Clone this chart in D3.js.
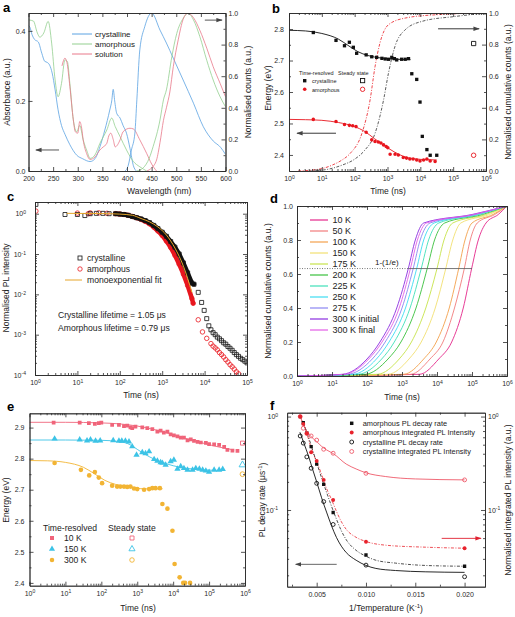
<!DOCTYPE html>
<html>
<head>
<meta charset="utf-8">
<script src="https://cdn.jsdelivr.net/npm/d3@7/dist/d3.min.js"></script>
<style>
  body { margin: 0; background: #fff; }
  svg { display: block; font-family: "Liberation Sans", Arial, sans-serif; }
</style>
</head>
<body>
<div id="figure"></div>
<script>
// ---------- panel a : spectra, [wavelength (nm), value]
const absCrystalline = [[200,0.415],[203,0.41],[207,0.39],[212,0.376],[220,0.368],[227,0.336],[233,0.313],[238,0.31],[243,0.302],[248,0.28],[254,0.232],[260,0.175],[267,0.13],[274,0.105],[284,0.075],[298,0.045],[310,0.035],[325,0.027],[335,0.035],[345,0.069],[355,0.117],[365,0.174],[369,0.2],[372,0.233],[375,0.2],[379,0.165],[386,0.151],[392,0.13],[399,0.108],[406,0.065],[413,0.015],[419,0]];
const absAmorphous = [[200,0.432],[202,0.431],[210,0.428],[218,0.394],[223,0.382],[231,0.394],[240,0.427],[247,0.365],[254,0.26],[260,0.212],[267,0.25],[274,0.317],[279,0.312],[284,0.25],[291,0.146],[298,0.112],[304,0.13],[311,0.089],[319,0.056],[325,0.036],[335,0.046],[345,0.079],[359,0.117],[369,0.151],[376,0.127],[386,0.098],[399,0.06],[413,0.027],[426,0.012],[440,0]];
const absSolution = [[268,0.3],[271,0.315],[274,0.322],[278,0.31],[284,0.241],[291,0.146],[295,0.112],[300,0.108],[304,0.141],[308,0.122],[311,0.089],[318,0.05],[325,0.033],[335,0.04],[345,0.06],[352,0.069],[359,0.079],[363,0.1],[367,0.108],[372,0.09],[376,0.069],[386,0.089],[392,0.112],[406,0.122],[413,0.12],[426,0.089],[440,0.05],[450,0.02],[460,0]];
const plCrystalline = [[396,0],[402,0.03],[409,0.133],[416,0.24],[420,0.45],[426,0.766],[436,0.913],[450,1.0],[467,0.892],[480,0.81],[494,0.714],[514,0.576],[535,0.429],[555,0.28],[575,0.19],[590,0.15],[600,0.105]];
const plAmorphous = [[420,0],[433,0.02],[445,0.08],[453,0.154],[467,0.323],[474,0.45],[480,0.513],[491,0.723],[501,0.87],[514,0.966],[524,0.998],[535,0.956],[548,0.85],[562,0.7],[575,0.576],[589,0.47],[600,0.407]];
const plSolution = [[440,0],[450,0.02],[460,0.07],[467,0.18],[474,0.32],[480,0.4],[487,0.5],[494,0.66],[504,0.83],[514,0.96],[524,1.0],[535,0.97],[548,0.89],[562,0.777],[575,0.66],[589,0.555],[600,0.47]];
const aSeriesNames = ["crystalline", "amorphous", "solution"];

// ---------- panel b : [time (ns), energy (eV)] and [time, cumulative counts]
const bCrystalline = [[5.5,2.789],[27,2.764],[49,2.747],[69,2.758],[91,2.742],[115,2.723],[224,2.718],[331,2.712],[468,2.71],[676,2.707],[851,2.705],[1072,2.704],[1349,2.71],[1622,2.706],[1905,2.702],[2692,2.704],[3467,2.704],[4365,2.706],[5495,2.658],[7762,2.64],[9772,2.568],[11482,2.459],[15849,2.417],[19953,2.399],[31623,2.399]];
const bAmorphous = [[5.5,2.513],[27,2.506],[49,2.497],[69,2.494],[87,2.493],[110,2.49],[224,2.472],[331,2.448],[417,2.443],[525,2.441],[631,2.438],[759,2.432],[912,2.427],[1023,2.423],[1202,2.402],[1698,2.402],[2138,2.4],[3020,2.392],[3802,2.39],[4786,2.387],[6026,2.387],[7762,2.384],[9772,2.381],[12589,2.384],[15849,2.387],[19953,2.381],[28184,2.379]];
const bCrystallineSteady = [[420000,2.754]];
const bAmorphousSteady = [[420000,2.399]];
const bCrystallineFit = [[1,2.796],[3.2,2.794],[10,2.786],[32,2.768],[63,2.748],[126,2.728],[251,2.716],[631,2.708],[1585,2.704],[5012,2.703]];
const bAmorphousFit = [[1,2.513],[3.2,2.512],[10,2.51],[32,2.503],[100,2.49],[200,2.475],[398,2.452],[794,2.43],[1585,2.41],[3162,2.395],[6310,2.388],[15849,2.385],[31623,2.384]];
const bCumAmorphous = [[1.9,0],[10,0.015],[20,0.036],[40,0.068],[72,0.11],[166,0.238],[295,0.45],[417,0.66],[589,0.81],[1072,0.926],[3467,0.968],[36308,0.99],[1000000,1.0]];
const bCumCrystalline = [[4,0],[10,0.005],[40,0.036],[100,0.075],[200,0.13],[417,0.238],[759,0.45],[1072,0.62],[1698,0.79],[3467,0.894],[11220,0.947],[114815,0.978],[1000000,1.0]];

// ---------- panel c : [time (ns), normalised PL intensity]
const cCrystalline = [[1.05,1.7],[5.1,0.955],[10,0.955],[15,0.9],[20,1.0],[28,1.02],[40,1.02],[56,1.0],[79,1.0],[100,0.977],[126,0.955],[158,0.912],[200,0.851],[251,0.794],[316,0.741],[398,0.676],[501,0.603],[631,0.513],[794,0.427],[1000,0.347],[1259,0.275],[1585,0.204],[1995,0.148],[2512,0.1],[3162,0.06],[3981,0.034],[5012,0.019],[5623,0.0178],[7079,0.0112],[8511,0.0063],[9772,0.004],[11220,0.0025],[12589,0.00166],[14125,0.00132],[15849,0.00112],[17783,0.001],[19953,0.00087],[22387,0.00079],[25119,0.00071],[28184,0.00063],[31623,0.00058],[35481,0.00051],[39811,0.00046],[44668,0.00041],[50119,0.00036],[56234,0.00032],[63096,0.00029],[70795,0.00026],[79433,0.00024],[89125,0.00022],[100000,0.0002]];
const cAmorphous = [[1.05,1.16],[10,1.035],[18,1.0],[20,1.047],[32,1.047],[50,1.023],[79,1.0],[100,0.977],[126,0.955],[158,0.912],[200,0.851],[251,0.794],[316,0.724],[398,0.646],[501,0.562],[631,0.468],[794,0.372],[1000,0.288],[1259,0.209],[1585,0.145],[1995,0.093],[2512,0.056],[3162,0.0316],[3981,0.0166],[5012,0.0079],[5370,0.006],[7079,0.00234],[8913,0.00117],[11220,0.00081],[14125,0.0006],[15849,0.00052],[17783,0.00047],[19953,0.00042],[22387,0.00036],[25119,0.00032],[28184,0.00028],[31623,0.00024],[35481,0.00021],[39811,0.00018],[44668,0.00016],[50119,0.00014],[56234,0.00012],[63096,0.000107]];
const cMonoFit = [[5.6,1.02],[32,1.01],[100,0.977],[200,0.912],[316,0.76],[501,0.63],[794,0.468],[1259,0.295],[1995,0.141],[3162,0.05],[3981,0.025],[5012,0.0112]];
const cLifetimes = ["Crystalline lifetime = 1.05 \u03bcs", "Amorphous lifetime = 0.79 \u03bcs"];

// ---------- panel d : time (log10 ns) at which each curve reaches each level
const dLevels = [0, 0.01, 0.1, 0.2, 0.4, 0.632, 0.8, 0.9, 0.95, 1.0];
const dNames = ["10 K","50 K","100 K","150 K","175 K","200 K","225 K","250 K","275 K","300 K initial","300 K final"];
const dColors = ["#e4278a","#f27c7c","#f3a04c","#f2e070","#c6e34a","#39c03c","#3fe0b8","#3cdcf2","#8a86f2","#8a2ee0","#e35de6"];
const dLogTimes = [
  [0, 3.5, 4.05, 4.42, 4.75, 4.99, 5.18, 5.4, 5.75, 6],
  [0, 3.25, 3.8, 4.17, 4.5, 4.78, 4.95, 5.15, 5.65, 6],
  [0, 3.05, 3.62, 3.98, 4.35, 4.62, 4.8, 5.0, 5.6, 6],
  [0, 2.6, 3.2, 3.55, 3.95, 4.25, 4.45, 4.68, 5.5, 6],
  [0, 2.3, 2.92, 3.27, 3.68, 4.0, 4.2, 4.45, 5.4, 6],
  [0, 1.95, 2.6, 2.97, 3.4, 3.72, 3.93, 4.22, 5.3, 6],
  [0, 1.75, 2.42, 2.78, 3.23, 3.55, 3.76, 4.05, 5.2, 6],
  [0, 1.6, 2.27, 2.63, 3.1, 3.42, 3.62, 3.92, 5.15, 6],
  [0, 1.45, 2.15, 2.52, 3.0, 3.32, 3.52, 3.8, 5.1, 6],
  [0, 1.3, 2.0, 2.37, 2.85, 3.18, 3.38, 3.62, 5.0, 6],
  [0, 1.35, 2.05, 2.43, 2.92, 3.24, 3.44, 3.7, 5.05, 6]
];
const dThreshold = 0.632;
const dThresholdTimes = [1, 1514, 100000];

// ---------- panel e : [time (ns), energy (eV)]
const e10K = [[4.7,2.916],[25,2.916],[45,2.914],[66,2.912],[85,2.914],[100,2.916],[200,2.909],[309,2.909],[427,2.905],[525,2.906],[646,2.901],[724,2.898],[891,2.903],[1380,2.901],[1905,2.898],[2630,2.895],[3631,2.887],[4467,2.89],[5495,2.884],[6918,2.887],[8511,2.878],[10471,2.875],[13183,2.872],[16218,2.868],[19953,2.868],[25119,2.859],[30903,2.862],[38019,2.857],[47863,2.854],[58884,2.852],[81283,2.851],[100000,2.847],[138038,2.846],[190546,2.844],[263027,2.838],[323594,2.828],[446684,2.826],[616595,2.825]];
const e150K = [[5,2.864],[25,2.861],[40,2.858],[50,2.861],[69,2.857],[93,2.858],[214,2.859],[309,2.857],[372,2.857],[468,2.857],[589,2.855],[724,2.839],[955,2.812],[1380,2.82],[1698,2.817],[2138,2.823],[2951,2.798],[3631,2.793],[4467,2.788],[5012,2.786],[6166,2.78],[8511,2.791],[10471,2.796],[13183,2.767],[16218,2.775],[19953,2.769],[25119,2.764],[34674,2.764],[42658,2.769],[53703,2.767],[66069,2.764],[81283,2.761],[100000,2.757],[138038,2.764],[190546,2.764],[239883,2.766]];
const e300K = [[5,2.786],[27,2.764],[46,2.746],[66,2.757],[85,2.739],[105,2.721],[200,2.713],[275,2.71],[339,2.71],[427,2.71],[525,2.709],[646,2.71],[813,2.704],[1000,2.702],[1549,2.7],[2138,2.702],[2630,2.705],[3236,2.705],[4266,2.705],[5012,2.654],[6918,2.639],[9550,2.568],[10965,2.461],[15136,2.418],[19055,2.4],[21380,2.4],[29512,2.4]];
const e10KSteady = [[851138,2.85]];
const e150KSteady = [[851138,2.78]];
const e300KSteady = [[851138,2.75]];
const e10KFit = [[1,2.917],[10,2.917],[100,2.915],[316,2.912],[1000,2.905],[3162,2.893],[10000,2.877],[31623,2.86],[100000,2.845],[316228,2.832],[501187,2.828]];
const e150KFit = [[1,2.86],[10,2.86],[100,2.859],[316,2.855],[631,2.845],[1000,2.83],[1585,2.815],[3162,2.797],[6310,2.784],[15849,2.772],[39811,2.766],[100000,2.763],[251189,2.762]];
const e300KFit = [[1,2.794],[3.2,2.793],[10,2.788],[32,2.772],[63,2.752],[126,2.73],[251,2.717],[631,2.708],[1585,2.703],[5012,2.703]];
const eNames = ["10 K", "150 K", "300 K"];

// ---------- panel f : [1/T (1/K), value]
const fAmorphousRate = [[0.00333,1.0],[0.00364,0.86],[0.004,0.67],[0.00444,0.476],[0.005,0.31],[0.00571,0.188],[0.00667,0.094],[0.01,0.033],[0.02,0.025]];
const fCrystallineRate = [[0.00333,0.62],[0.00364,0.52],[0.004,0.37],[0.00444,0.28],[0.005,0.193],[0.00571,0.123],[0.00667,0.07],[0.01,0.0257],[0.02,0.0193]];
const fAmorphousIntensity = [[0.00333,1.0],[0.00364,0.835],[0.004,0.66],[0.00444,0.415],[0.005,0.335],[0.00571,0.21],[0.00667,0.128],[0.01,0.0457],[0.02,0.039]];
const fCrystallineIntensity = [[0.00333,1.0],[0.00364,0.75],[0.004,0.66],[0.00444,0.62],[0.005,0.56],[0.00571,0.447],[0.00667,0.405],[0.01,0.247],[0.02,0.21]];
const fCrystallineRateFit = [[0.0033,0.68],[0.0037,0.52],[0.0042,0.37],[0.0046,0.27],[0.005,0.2],[0.0055,0.135],[0.006,0.095],[0.0065,0.068],[0.007,0.051],[0.0075,0.041],[0.008,0.035],[0.009,0.029],[0.01,0.0255],[0.011,0.0237],[0.013,0.0225],[0.016,0.0218],[0.02,0.0215]];
const fAmorphousRateFit = [[0.00355,0.9],[0.004,0.68],[0.0045,0.47],[0.005,0.32],[0.0055,0.22],[0.006,0.155],[0.0065,0.11],[0.007,0.08],[0.0075,0.06],[0.008,0.048],[0.009,0.037],[0.01,0.032],[0.011,0.029],[0.013,0.027],[0.016,0.0255],[0.02,0.025]];
const fAmorphousIntensityFit = [[0.00333,1.0],[0.004,0.66],[0.0045,0.44],[0.005,0.33],[0.0055,0.24],[0.006,0.17],[0.0065,0.13],[0.007,0.097],[0.0075,0.075],[0.008,0.062],[0.009,0.051],[0.01,0.046],[0.012,0.042],[0.016,0.04],[0.02,0.039]];
const fCrystallineIntensityFit = [[0.00333,1.0],[0.0037,0.8],[0.004,0.7],[0.0045,0.6],[0.005,0.54],[0.0055,0.48],[0.006,0.44],[0.0067,0.4],[0.008,0.31],[0.009,0.275],[0.01,0.25],[0.012,0.228],[0.015,0.215],[0.02,0.21]];
const fNames = ["amorphous PL decay rate", "amorphous integrated PL Intensity", "crystalline PL decay rate", "crystalline integrated PL Intensity"];

// ================= drawing =================
const FONT = '"Liberation Sans", Arial, sans-serif';
const C_BLUE = "#5aa2e2", C_GREEN = "#93cf8f", C_PINK = "#e9798a";
const C_RED = "#e8161e", C_BLACK = "#111";

const svg = d3.select("#figure").append("svg").attr("width", 515).attr("height", 617);
svg.append("rect").attr("width", 515).attr("height", 617).attr("fill", "#fff");
const defs = svg.append("defs");

function arrowMarker(id, color) {
  defs.append("marker").attr("id", id).attr("viewBox", "0 0 10 10")
    .attr("refX", 9).attr("refY", 5).attr("markerWidth", 7).attr("markerHeight", 7)
    .attr("orient", "auto")
    .append("path").attr("d", "M0,1.5L10,5L0,8.5z").attr("fill", color);
}
arrowMarker("arrGrey", "#444");
arrowMarker("arrRed", "#e02030");

let clipCount = 0;
function makePanel(x, y) {
  const id = "clip" + (clipCount++);
  const [x0, x1] = x.range(), [y0, y1] = y.range();
  defs.append("clipPath").attr("id", id).append("rect")
    .attr("x", x0).attr("y", y1).attr("width", x1 - x0).attr("height", y0 - y1);
  const g = svg.append("g");
  const plot = g.append("g").attr("clip-path", `url(#${id})`);
  return { g, plot };
}

function drawLine(sel, data, x, y, color, o = {}) {
  const line = d3.line().x(d => x(d[0])).y(d => y(d[1])).curve(o.curve || d3.curveMonotoneX);
  return sel.append("path").datum(data).attr("d", line).attr("fill", "none")
    .attr("stroke", color).attr("stroke-width", o.width || 0.9)
    .attr("stroke-dasharray", o.dash || null)
    .attr("stroke-linejoin", "round").attr("stroke-linecap", o.cap || "butt");
}

function drawSymbols(sel, data, x, y, type, size, fill, stroke, sw) {
  const sym = d3.symbol().type(type).size(size);
  sel.selectAll(null).data(data).enter().append("path")
    .attr("transform", d => `translate(${x(d[0])},${y(d[1])})`)
    .attr("d", sym).attr("fill", fill).attr("stroke", stroke).attr("stroke-width", sw || 0.8);
}

function arrow(sel, x, y, pts, color, marker) {
  sel.append("line")
    .attr("x1", x(pts[0][0])).attr("y1", y(pts[0][1]))
    .attr("x2", x(pts[1][0])).attr("y2", y(pts[1][1]))
    .attr("stroke", color).attr("stroke-width", 0.9).attr("marker-end", `url(#${marker})`);
}

function text(x, y, str, o = {}) {
  const t = svg.append("text").attr("x", x).attr("y", y)
    .attr("font-size", o.size || 8.5).attr("fill", o.color || "#222")
    .attr("text-anchor", o.anchor || "start").attr("font-weight", o.weight || null);
  if (o.rotate) t.attr("transform", `rotate(-90,${x},${y})`);
  if (str !== null) t.text(str);
  return t;
}
function supText(t, parts) {
  // parts: [[string, isSuperscript]]
  parts.forEach(([s, up], i) => {
    const ts = t.append("tspan").text(s);
    if (up) ts.attr("dy", "-0.45em").attr("font-size", "0.7em");
    else if (i > 0 && parts[i - 1][1]) ts.attr("dy", "0.45em");
  });
  return t;
}

function decades(lo, hi) { const out = []; for (let e = lo; e <= hi; e++) out.push(Math.pow(10, e)); return out; }
function logMinor(lo, hi) { const out = []; for (let e = lo; e < hi; e++) for (let k = 2; k <= 9; k++) out.push(k * Math.pow(10, e)); return out; }
function inDomain(s, vals) { const [a, b] = d3.extent(s.domain()); return vals.filter(v => v >= a * (1 - 1e-9) && v <= b * (1 + 1e-9)); }

function axisGroup(g, tr, axis) {
  const a = g.append("g").attr("transform", tr).call(axis);
  a.attr("font-size", 7).attr("font-family", FONT).style("color", "#2a2a2a");
  a.selectAll("line, path").attr("stroke-width", 0.8);
  return a;
}
function supTicks(a) {
  a.selectAll(".tick text").each(function (d) {
    const t = d3.select(this).text(null);
    t.append("tspan").text("10");
    t.append("tspan").attr("dy", "-0.45em").attr("font-size", "0.72em").text(Math.round(Math.log10(d)));
  });
}

function frame(g, x, y, o) {
  const [xl, xr] = x.range(), [yb, yt] = y.range();
  const ax = (tr, gen, vals, size, fmt, pad) => axisGroup(g, tr,
    gen.tickValues(inDomain(gen.scale(), vals)).tickSize(-size).tickSizeOuter(0)
      .tickPadding(pad || 3).tickFormat(fmt || (() => "")));
  const b = ax(`translate(0,${yb})`, d3.axisBottom(x), o.xTicks, 4, o.xFmt, o.xPad || 5);
  if (o.xLog) supTicks(b);
  ax(`translate(0,${yt})`, d3.axisTop(x), o.xTicks, 4);
  if (o.xMinor) {
    ax(`translate(0,${yb})`, d3.axisBottom(x), o.xMinor, 2);
    ax(`translate(0,${yt})`, d3.axisTop(x), o.xMinor, 2);
  }
  const l = ax(`translate(${xl},0)`, d3.axisLeft(y), o.yTicks, 4, o.yFmt, o.yPad || 3);
  if (o.yLog) supTicks(l);
  if (o.yMinor) ax(`translate(${xl},0)`, d3.axisLeft(y), o.yMinor, 2);
  const y2 = o.y2 || y;
  const r = ax(`translate(${xr},0)`, d3.axisRight(y2), o.y2Ticks || o.yTicks, 4, o.y2Fmt, o.y2Pad || 3);
  if (o.y2Log) supTicks(r);
  const rMinor = o.y2 ? o.y2Minor : o.yMinor;
  if (rMinor) ax(`translate(${xr},0)`, d3.axisRight(y2), rMinor, 2);
}

const f1 = d3.format(".1f");

// ---------------- panel a
{
  const x = d3.scaleLinear().domain([200, 600]).range([28.5, 225.5]);
  const yA = d3.scaleLinear().domain([0, 0.451]).range([171, 13]);
  const yC = d3.scaleLinear().domain([0, 1]).range([171, 13]);
  const { g, plot } = makePanel(x, yA);
  const colors = [C_BLUE, C_GREEN, C_PINK];
  [absCrystalline, absAmorphous, absSolution].forEach((d, i) => drawLine(plot, d, x, yA, colors[i], { width: 0.8 }));
  [plCrystalline, plAmorphous, plSolution].forEach((d, i) => drawLine(plot, d, x, yC, colors[i], { width: 0.8 }));
  arrow(g, x, yA, [[262, 0.06], [215, 0.06]], "#444", "arrGrey");
  arrow(g, x, yC, [[558, 0.955], [593, 0.955]], "#444", "arrGrey");
  frame(g, x, yA, {
    xTicks: d3.range(200, 601, 50), xMinor: d3.range(225, 600, 50), xFmt: d3.format("d"),
    yTicks: [0, 0.2, 0.4], yMinor: [0.1, 0.3], yFmt: f1,
    y2: yC, y2Ticks: d3.range(0, 1.01, 0.2), y2Minor: d3.range(0.1, 1, 0.2), y2Fmt: f1
  });
  aSeriesNames.forEach((n, i) => {
    const yy = 34 + i * 10;
    g.append("line").attr("x1", 72).attr("x2", 92).attr("y1", yy).attr("y2", yy).attr("stroke", colors[i]).attr("stroke-width", 1);
    text(95, yy + 3, n, { size: 8 });
  });
  text(127, 194, "Wavelength (nm)");
  text(10, 92, "Absorbance (a.u.)", { rotate: true, anchor: "middle" });
  text(251, 92, "Normalised counts (a.u.)", { rotate: true, anchor: "middle" });
  text(3, 12, "a", { size: 13, weight: "bold", color: "#000" });
}

// ---------------- panel b
{
  const x = d3.scaleLog().domain([1, 1e6]).range([289, 486]);
  const yE = d3.scaleLinear().domain([2.349, 2.851]).range([171, 13]);
  const yC = d3.scaleLinear().domain([0, 1]).range([171, 13]);
  const { g, plot } = makePanel(x, yE);
  drawLine(plot, bCumCrystalline, x, yC, "#333", { width: 0.8, dash: "3,1.5,1,1.5" });
  drawLine(plot, bCumAmorphous, x, yC, C_RED, { width: 0.8, dash: "3,1.5,1,1.5" });
  drawLine(plot, bCrystallineFit, x, yE, C_BLACK, { width: 0.9 });
  drawLine(plot, bAmorphousFit, x, yE, C_RED, { width: 0.9 });
  drawSymbols(plot, bCrystalline, x, yE, d3.symbolSquare, 11, C_BLACK, "none");
  drawSymbols(plot, bAmorphous, x, yE, d3.symbolCircle, 10, C_RED, "none");
  drawSymbols(plot, bCrystallineSteady, x, yE, d3.symbolSquare, 18, "none", C_BLACK, 0.9);
  drawSymbols(plot, bAmorphousSteady, x, yE, d3.symbolCircle, 16, "none", C_RED, 0.9);
  arrow(g, x, yE, [[27, 2.469], [1.75, 2.469]], "#222", "arrGrey");
  arrow(g, x, yC, [[34700, 0.9], [617000, 0.9]], "#222", "arrGrey");
  frame(g, x, yE, {
    xTicks: decades(0, 6), xMinor: logMinor(0, 6), xFmt: String, xLog: true,
    yTicks: d3.range(2.4, 2.81, 0.1), yMinor: d3.range(2.45, 2.85, 0.1), yFmt: f1, yPad: 5,
    y2: yC, y2Ticks: d3.range(0, 1.01, 0.2), y2Minor: d3.range(0.1, 1, 0.2), y2Fmt: f1
  });
  text(299, 75, "Time-resolved", { size: 5.5 });
  text(338, 75, "Steady state", { size: 5.5 });
  g.append("rect").attr("x", 303).attr("y", 79).attr("width", 3.4).attr("height", 3.4).attr("fill", C_BLACK);
  text(312, 83, "crystalline", { size: 5.5 });
  g.append("rect").attr("x", 360.5).attr("y", 78.5).attr("width", 4.2).attr("height", 4.2).attr("fill", "none").attr("stroke", C_BLACK).attr("stroke-width", 0.9);
  g.append("circle").attr("cx", 304.7).attr("cy", 89.3).attr("r", 1.8).attr("fill", C_RED);
  text(312, 91.5, "amorphous", { size: 5.5 });
  g.append("circle").attr("cx", 362.6).attr("cy", 89.3).attr("r", 2.2).attr("fill", "none").attr("stroke", C_RED).attr("stroke-width", 0.9);
  text(388, 194, "Time (ns)", { anchor: "middle" });
  text(271, 88, "Energy (eV)", { rotate: true, anchor: "middle" });
  text(511, 92, "Normalised cumulative counts (a.u.)", { rotate: true, anchor: "middle" });
  text(272, 13, "b", { size: 13, weight: "bold", color: "#000" });
}

// ---------------- panel c
{
  const x = d3.scaleLog().domain([1, 1e5]).range([35, 247]);
  const y = d3.scaleLog().domain([1e-4, 1.95]).range([375, 202]);
  const { g, plot } = makePanel(x, y);
  const C_ORANGE = "#e6a52a";
  drawLine(plot, cAmorphous.filter(d => d[0] >= 60 && d[0] <= 5400), x, y, C_RED, { width: 4.5, curve: d3.curveLinear, cap: "round" });
  drawSymbols(plot, cAmorphous, x, y, d3.symbolCircle, 16, "none", C_RED, 0.8);
  drawLine(plot, cCrystalline.filter(d => d[0] >= 60 && d[0] <= 5700), x, y, C_BLACK, { width: 4.5, curve: d3.curveLinear, cap: "round" });
  drawSymbols(plot, cCrystalline, x, y, d3.symbolSquare, 16, "none", C_BLACK, 0.8);
  drawLine(plot, cMonoFit, x, y, C_ORANGE, { width: 1 });
  frame(g, x, y, {
    xTicks: decades(0, 5), xMinor: logMinor(0, 5), xFmt: String, xLog: true,
    yTicks: decades(-4, 0), yMinor: logMinor(-4, 0), yFmt: String, yLog: true, yPad: 9
  });
  g.append("rect").attr("x", 78).attr("y", 256).attr("width", 4).attr("height", 4).attr("fill", "none").attr("stroke", C_BLACK).attr("stroke-width", 0.8);
  text(87, 261, "crystalline", { size: 8.6 });
  g.append("circle").attr("cx", 80).attr("cy", 269).attr("r", 2.2).attr("fill", "none").attr("stroke", C_RED).attr("stroke-width", 0.8);
  text(87, 272, "amorphous", { size: 8.6 });
  g.append("line").attr("x1", 65).attr("x2", 82).attr("y1", 280).attr("y2", 280).attr("stroke", C_ORANGE).attr("stroke-width", 1);
  text(87, 283, "monoexponential fit", { size: 8.6 });
  text(58, 318, cLifetimes[0], { size: 8.6 });
  text(58, 331, cLifetimes[1], { size: 8.6 });
  text(141, 398, "Time (ns)", { anchor: "middle" });
  text(9, 288, "Normalised PL intensity", { rotate: true, anchor: "middle" });
  text(7, 201, "c", { size: 13, weight: "bold", color: "#000" });
}

// ---------------- panel d
{
  const x = d3.scaleLog().domain([1, 1e6]).range([297, 507]);
  const y = d3.scaleLinear().domain([0, 1]).range([376, 206]);
  const { g, plot } = makePanel(x, y);
  plot.append("line").attr("x1", x(dThresholdTimes[0])).attr("x2", x(dThresholdTimes[1]))
    .attr("y1", y(dThreshold)).attr("y2", y(dThreshold))
    .attr("stroke", "#555").attr("stroke-width", 0.8).attr("stroke-dasharray", "1,1.5");
  dLogTimes.forEach((row, i) => {
    const pts = row.map((lt, j) => [Math.pow(10, lt), dLevels[j]]);
    drawLine(plot, pts, x, y, dColors[i], { width: 0.9 });
  });
  plot.append("line").attr("x1", x(dThresholdTimes[1])).attr("x2", x(dThresholdTimes[2]))
    .attr("y1", y(dThreshold)).attr("y2", y(dThreshold))
    .attr("stroke", "#555").attr("stroke-width", 0.8);
  frame(g, x, y, {
    xTicks: decades(0, 6), xMinor: logMinor(0, 6), xFmt: String, xLog: true,
    yTicks: d3.range(0, 1.01, 0.2), yMinor: d3.range(0.1, 1, 0.2), yFmt: f1, yPad: 4
  });
  dNames.forEach((n, i) => {
    const yy = 220 + i * 11;
    g.append("line").attr("x1", 310).attr("x2", 328).attr("y1", yy).attr("y2", yy).attr("stroke", dColors[i]).attr("stroke-width", 1.2);
    text(332.5, yy + 3.2, n, { size: 9 });
  });
  text(375, 265, "1-(1/e)", { size: 8 });
  text(402, 400, "Time (ns)", { anchor: "middle" });
  text(271, 291, "Normalised cumulative counts (a.u.)", { rotate: true, anchor: "middle" });
  text(270, 203, "d", { size: 13, weight: "bold", color: "#000" });
}

// ---------------- panel e
{
  const x = d3.scaleLog().domain([1, 1e6]).range([29.5, 245]);
  const y = d3.scaleLinear().domain([2.391, 2.946]).range([585.7, 413.3]);
  const { g, plot } = makePanel(x, y);
  const C10 = "#f0647a", C150 = "#3cc3e6", C300 = "#f2b433";
  drawLine(plot, e10KFit, x, y, C10, { width: 0.9 });
  drawLine(plot, e150KFit, x, y, C150, { width: 0.9 });
  drawLine(plot, e300KFit, x, y, C300, { width: 0.9 });
  drawSymbols(plot, e10K, x, y, d3.symbolSquare, 14, C10, "none");
  drawSymbols(plot, e150K, x, y, d3.symbolTriangle, 17, C150, "none");
  drawSymbols(plot, e300K, x, y, d3.symbolCircle, 17, C300, "none");
  drawSymbols(plot, e10KSteady, x, y, d3.symbolSquare, 16, "none", C10, 0.9);
  drawSymbols(plot, e150KSteady, x, y, d3.symbolTriangle, 20, "none", C150, 0.9);
  drawSymbols(plot, e300KSteady, x, y, d3.symbolCircle, 18, "none", C300, 0.9);
  frame(g, x, y, {
    xTicks: decades(0, 6), xMinor: logMinor(0, 6), xFmt: String, xLog: true,
    yTicks: d3.range(2.4, 2.91, 0.1), yMinor: d3.range(2.45, 2.95, 0.1), yFmt: f1, yPad: 5
  });
  text(43, 531, "Time-resolved", { size: 8.6 });
  text(108, 531, "Steady state", { size: 8.6 });
  const cols = [C10, C150, C300];
  const syms = [d3.symbolSquare, d3.symbolTriangle, d3.symbolCircle];
  eNames.forEach((n, i) => {
    const yy = 538 + i * 11;
    g.append("path").attr("transform", `translate(52,${yy})`).attr("d", d3.symbol().type(syms[i]).size(16)).attr("fill", cols[i]);
    text(64, yy + 3, n, { size: 8.6 });
    g.append("path").attr("transform", `translate(132,${yy})`).attr("d", d3.symbol().type(syms[i]).size(16)).attr("fill", "none").attr("stroke", cols[i]).attr("stroke-width", 0.9);
  });
  text(138, 611, "Time (ns)", { anchor: "middle" });
  text(9, 500, "Energy (eV)", { rotate: true, anchor: "middle" });
  text(7, 411, "e", { size: 13, weight: "bold", color: "#000" });
}

// ---------------- panel f
{
  const x = d3.scaleLinear().domain([0.002, 0.02207]).range([287.1, 485]);
  const y = d3.scaleLog().domain([0.0151, 1.1]).range([586.7, 412.7]);
  const { g, plot } = makePanel(x, y);
  const C_RF = "#e8222c", C_RO = "#ee5a6a";
  drawLine(plot, fCrystallineIntensityFit, x, y, C_RO, { width: 0.9 });
  drawLine(plot, fAmorphousIntensityFit, x, y, C_RF, { width: 0.8, dash: "3,1.5,1,1.5" });
  drawLine(plot, fAmorphousRateFit, x, y, "#222", { width: 0.8, dash: "3,1.5,1,1.5" });
  drawLine(plot, fCrystallineRateFit, x, y, "#111", { width: 0.9 });
  drawSymbols(plot, fCrystallineRate, x, y, d3.symbolCircle, 12, "none", "#111", 0.9);
  drawSymbols(plot, fAmorphousRate, x, y, d3.symbolSquare, 11, "#111", "none");
  drawSymbols(plot, fCrystallineIntensity, x, y, d3.symbolCircle, 12, "none", C_RO, 0.9);
  drawSymbols(plot, fAmorphousIntensity, x, y, d3.symbolCircle, 12, C_RF, "none");
  arrow(g, x, y, [[0.01768, 0.0497], [0.02167, 0.0497]], "#e02030", "arrRed");
  arrow(g, x, y, [[0.00703, 0.0262], [0.00287, 0.0262]], "#555", "arrGrey");
  frame(g, x, y, {
    xTicks: [0.005, 0.01, 0.015, 0.02], xMinor: [0.0025, 0.0075, 0.0125, 0.0175], xFmt: d3.format(".3f"),
    yTicks: [0.1, 1], yMinor: logMinor(-2, 0), yFmt: String, yLog: true, yPad: 9,
    y2: y, y2Ticks: [0.1, 1], y2Minor: logMinor(-2, 0), y2Fmt: String, y2Log: true, y2Pad: 3
  });
  const legendStyles = [
    { type: d3.symbolSquare, fill: "#111", stroke: "none" },
    { type: d3.symbolCircle, fill: C_RF, stroke: "none" },
    { type: d3.symbolCircle, fill: "none", stroke: "#111" },
    { type: d3.symbolCircle, fill: "none", stroke: C_RO }
  ];
  fNames.forEach((n, i) => {
    const yy = [423.3, 432.5, 442, 451.5][i];
    const s = legendStyles[i];
    g.append("path").attr("transform", `translate(351.7,${yy})`).attr("d", d3.symbol().type(s.type).size(12))
      .attr("fill", s.fill).attr("stroke", s.stroke).attr("stroke-width", 0.9);
    text(362.7, yy + 2.6, n, { size: 7.4 });
  });
  supText(text(386, 611, null, { anchor: "middle" }), [["1/Temperature (K", false], ["-1", true], [")", false]]);
  supText(text(265, 500, null, { rotate: true, anchor: "middle" }), [["PL decay rate (\u03bcs", false], ["-1", true], [")", false]]);
  text(511, 500, "Normalised integrated PL intensity (a.u.)", { rotate: true, anchor: "middle" });
  text(270, 410, "f", { size: 13, weight: "bold", color: "#000" });
}
</script>
</body>
</html>
